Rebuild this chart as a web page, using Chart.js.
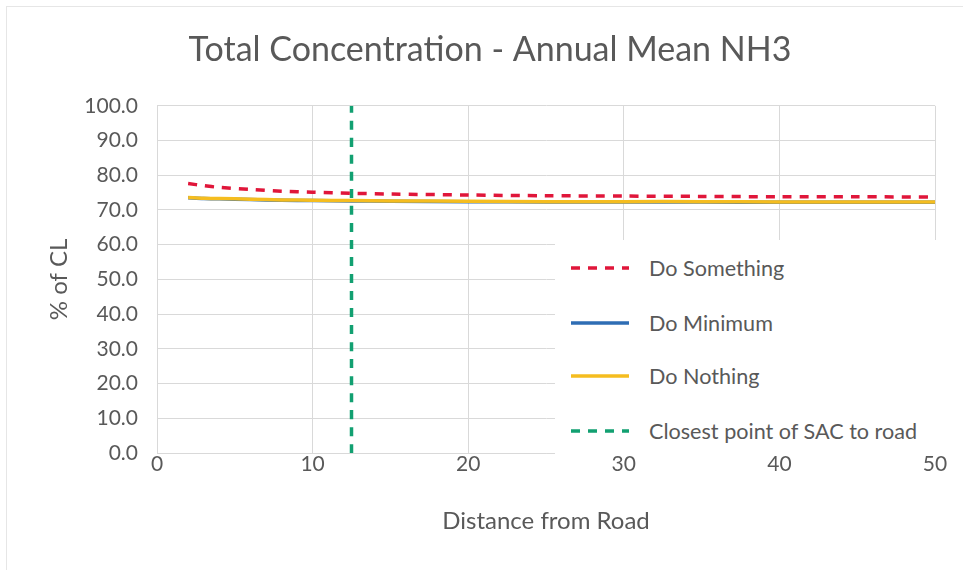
<!DOCTYPE html>
<html><head><meta charset="utf-8">
<script src="https://cdn.jsdelivr.net/npm/chart.js@4"></script>
<style>
html,body{margin:0;padding:0;background:#fff}
#wrap{position:relative;width:963px;height:570px;overflow:hidden}
#frame{position:absolute;left:6px;top:6px;width:980px;height:600px;border-left:1px solid #e6e6e6;border-top:1px solid #e6e6e6;pointer-events:none}
#legend{position:absolute;left:555px;top:240px;width:400px;height:214px;background:#fff;font-family:Lato,sans-serif;font-size:21.6px;color:#595959}
.item{position:absolute;left:16px;height:30px;display:flex;align-items:center;white-space:nowrap}
.item svg{margin-right:20px}
</style></head>
<body>
<div id="wrap">
<canvas id="c" width="963" height="570"></canvas>
<div id="frame"></div>
<div id="legend"></div>
</div>
<script>
const chartTitle = "Total Concentration - Annual Mean NH3";
const xTitle = "Distance from Road";
const yTitle = "% of CL";
const seriesNames = ["Do Something", "Do Minimum", "Do Nothing", "Closest point of SAC to road"];
const distances = [2, 3, 4, 6, 8, 10, 12.5, 15, 20, 25, 30, 35, 40, 45, 50];
const doSomething = [77.6, 77.0, 76.5, 75.9, 75.4, 75.1, 74.8, 74.6, 74.3, 74.1, 74.0, 73.9, 73.8, 73.8, 73.7];
const doMinimum = [73.5, 73.3, 73.2, 73.0, 72.8, 72.7, 72.6, 72.5, 72.4, 72.3, 72.3, 72.3, 72.2, 72.2, 72.2];
const doNothing = [73.6, 73.4, 73.3, 73.1, 72.9, 72.8, 72.7, 72.6, 72.5, 72.4, 72.4, 72.4, 72.3, 72.3, 72.3];
const sacX = [12.5, 12.5];
const sacY = [0, 100];
const xTicks = [0, 10, 20, 30, 40, 50];
const yTicks = [0, 10, 20, 30, 40, 50, 60, 70, 80, 90, 100];

const pts = (xs, ys) => xs.map((x, i) => ({x, y: ys[i]}));
const textColor = '#595959';
const gridColor = '#d9d9d9';

const datasets = [
  {label: seriesNames[0], data: pts(distances, doSomething), borderColor: '#e0163a', borderWidth: 3.5, borderDash: [9, 8], order: 0},
  {label: seriesNames[1], data: pts(distances, doMinimum), borderColor: '#2e6db4', borderWidth: 3.5, order: 2},
  {label: seriesNames[2], data: pts(distances, doNothing), borderColor: '#f5bd1f', borderWidth: 3.5, order: 1},
  {label: seriesNames[3], data: pts(sacX, sacY), borderColor: '#12a071', borderWidth: 3.5, borderDash: [9, 8], order: 0}
].map(d => Object.assign({pointRadius: 0, fill: false, tension: 0.3, showLine: true}, d));

const chart = new Chart(document.getElementById('c'), {
  type: 'scatter',
  data: {datasets},
  options: {
    responsive: false,
    animation: false,
    layout: {padding: {left: 45, right: 28, top: 0, bottom: 0}},
    plugins: {
      legend: {display: false},
      tooltip: {enabled: false},
      title: {
        display: true, text: chartTitle, color: textColor,
        font: {family: 'Lato', size: 34, weight: 'normal', lineHeight: 1.2},
        padding: {top: 30, bottom: 35}
      }
    },
    scales: {
      x: {
        type: 'linear', min: 0, max: 50,
        afterBuildTicks: s => { s.ticks = xTicks.map(v => ({value: v})); },
        afterFit: s => { s.height = 570 - 453; },
        grid: {color: gridColor, drawTicks: false, lineWidth: 1},
        border: {color: gridColor},
        ticks: {color: textColor, font: {family: 'Lato', size: 21}, padding: -1, maxRotation: 0},
        title: {display: true, text: xTitle, color: textColor, font: {family: 'Lato', size: 24}, padding: {top: 0, bottom: 34}}
      },
      y: {
        type: 'linear', min: 0, max: 100,
        afterBuildTicks: s => { s.ticks = yTicks.map(v => ({value: v})); },
        afterFit: s => { s.width = 157 - 45; },
        grid: {color: gridColor, drawTicks: false, lineWidth: 1},
        border: {color: gridColor},
        ticks: {color: textColor, font: {family: 'Lato', size: 21}, padding: 19, callback: v => Number(v).toFixed(1)},
        title: {display: true, text: yTitle, color: textColor, font: {family: 'Lato', size: 24}, padding: {top: 0, bottom: 0}}
      }
    }
  }
});

// HTML legend overlaid on the plot, built from the chart's datasets
const legendEl = document.getElementById('legend');
const itemTops = [13, 68, 121, 176];
chart.data.datasets.forEach((ds, i) => {
  const item = document.createElement('div');
  item.className = 'item';
  item.style.top = itemTops[i] + 'px';
  const dash = ds.borderDash ? ds.borderDash.join(' ') : 'none';
  item.innerHTML = '<svg width="58" height="10"><line x1="0" y1="5" x2="58" y2="5" stroke="' + ds.borderColor +
    '" stroke-width="' + ds.borderWidth + '" stroke-dasharray="' + dash + '"/></svg><span>' + ds.label + '</span>';
  legendEl.appendChild(item);
});
</script>
</body></html>
